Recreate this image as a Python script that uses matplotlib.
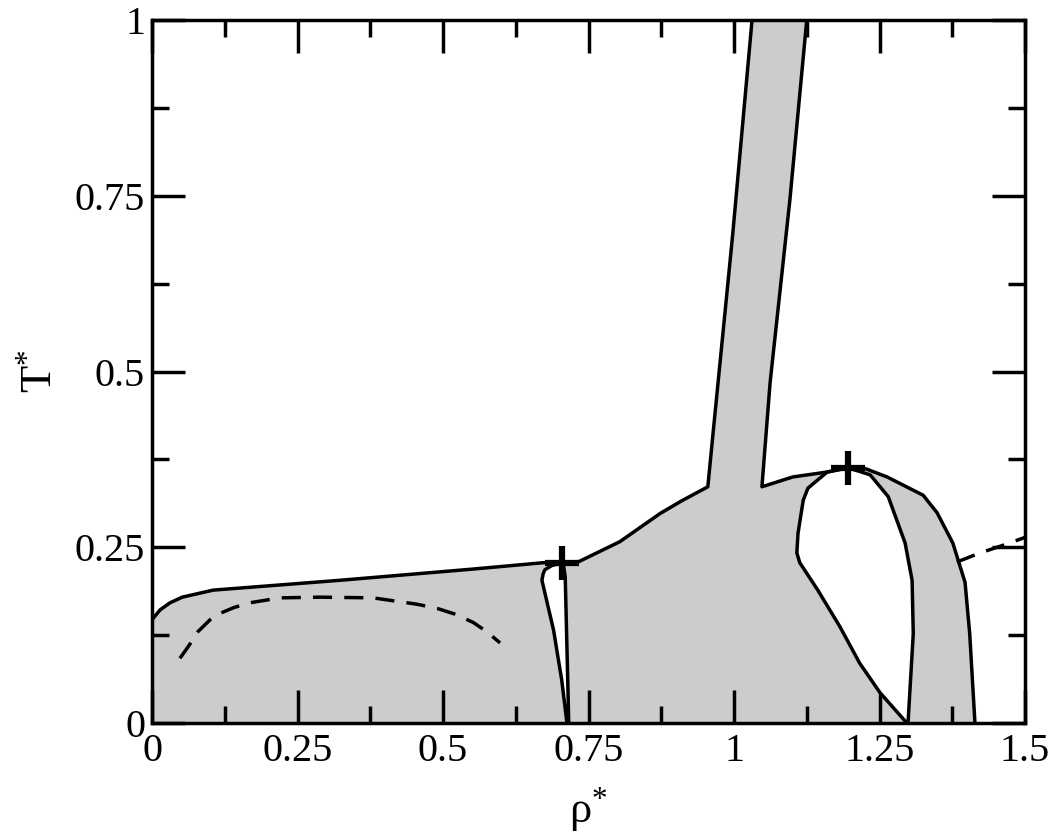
import matplotlib
matplotlib.use("Agg")
import matplotlib.pyplot as plt
from matplotlib.ticker import MultipleLocator

# ---- data ----
# upper boundary of the grey region, left part (up to the bottom-left of the strip)
left_rho = [0.0, 0.0, 0.014, 0.031, 0.052, 0.105, 0.323, 0.552, 0.672, 0.704, 0.732, 0.804, 0.873, 0.910, 0.955]
left_T   = [0.0, 0.147, 0.161, 0.171, 0.179, 0.189, 0.203, 0.219, 0.228, 0.229, 0.229, 0.258, 0.298, 0.316, 0.336]

# vertical strip going to the top
strip_left_rho  = [0.955, 0.964, 0.998, 1.031]
strip_left_T    = [0.336, 0.412, 0.697, 1.000]
strip_right_rho = [1.125, 1.096, 1.062, 1.048]
strip_right_T   = [1.000, 0.744, 0.484, 0.336]

# right part of the boundary (from strip to the axis)
right_rho = [1.048, 1.101, 1.160, 1.196, 1.222, 1.263, 1.325, 1.349, 1.376, 1.397, 1.405, 1.414]
right_T   = [0.336, 0.350, 0.357, 0.363, 0.363, 0.350, 0.324, 0.299, 0.256, 0.200, 0.127, 0.000]

# white loop near rho = 0.7
loop1_rho = [0.713, 0.704, 0.690, 0.670, 0.672, 0.675, 0.687, 0.701, 0.707, 0.710, 0.715, 0.716]
loop1_T   = [0.000, 0.061, 0.132, 0.203, 0.212, 0.218, 0.224, 0.227, 0.224, 0.208, 0.037, 0.000]

# white loop near rho = 1.2
loop2_rho = [1.297, 1.251, 1.216, 1.182, 1.144, 1.113, 1.108, 1.110, 1.119, 1.127, 1.160, 1.196,
             1.234, 1.265, 1.294, 1.306, 1.308, 1.299]
loop2_T   = [0.000, 0.043, 0.085, 0.137, 0.189, 0.228, 0.242, 0.270, 0.317, 0.334, 0.357, 0.363,
             0.353, 0.322, 0.256, 0.203, 0.127, 0.000]

# dashed curves
dash1_rho = [0.048, 0.065, 0.079, 0.100, 0.117, 0.140, 0.168, 0.220, 0.289, 0.380, 0.455, 0.490,
             0.520, 0.552, 0.575, 0.598]
dash1_T   = [0.092, 0.112, 0.130, 0.147, 0.156, 0.164, 0.171, 0.178, 0.179, 0.178, 0.169, 0.163,
             0.155, 0.143, 0.130, 0.114]
dash2_rho = [1.383, 1.423, 1.463, 1.500]
dash2_T   = [0.229, 0.242, 0.253, 0.264]

# critical points
crit_rho = [0.704, 1.196]
crit_T   = [0.227, 0.363]

xticks = [0, 0.25, 0.5, 0.75, 1, 1.25, 1.5]
xticklabels = ["0", "0.25", "0.5", "0.75", "1", "1.25", "1.5"]
yticks = [0, 0.25, 0.5, 0.75, 1]
yticklabels = ["0", "0.25", "0.5", "0.75", "1"]

# ---- style ----
plt.rcParams['font.family'] = ['Liberation Serif', 'DejaVu Serif']
plt.rcParams['mathtext.fontset'] = 'custom'
plt.rcParams['mathtext.rm'] = 'Liberation Serif'
plt.rcParams['mathtext.it'] = 'Liberation Serif'
plt.rcParams['mathtext.default'] = 'rm'

LW = 2.5
GREY = '#cccccc'

fig = plt.figure(figsize=(10.57, 8.34), dpi=100)
ax = fig.add_axes([152/1057, 1 - 723/834, (1025-152)/1057, (723-20)/834])

# grey region
poly_x = left_rho + strip_left_rho + strip_right_rho + right_rho
poly_y = left_T + strip_left_T + strip_right_T + right_T
ax.fill(poly_x, poly_y, color=GREY, lw=0, zorder=1)

# white holes
ax.fill(loop1_rho, loop1_T, color='white', lw=0, zorder=2)
ax.fill(loop2_rho, loop2_T, color='white', lw=0, zorder=2)

line_kw = dict(color='black', lw=LW, solid_joinstyle='round', solid_capstyle='round', zorder=3)
ax.plot(left_rho + strip_left_rho, left_T + strip_left_T, **line_kw)
ax.plot(strip_right_rho + right_rho, strip_right_T + right_T, **line_kw)
ax.plot(loop1_rho, loop1_T, **line_kw)
ax.plot(loop2_rho, loop2_T, **line_kw)

dash_kw = dict(color='black', lw=LW, dashes=(5.5, 3.5), dash_capstyle='butt', zorder=3)
ax.plot(dash1_rho, dash1_T, **dash_kw)
ax.plot(dash2_rho, dash2_T, **dash_kw)

ax.plot(crit_rho, crit_T, ls='none', marker='+', ms=24, mew=4.5, color='black', zorder=4)

ax.set_xlim(0, 1.5)
ax.set_ylim(0, 1)
ax.set_xticks(xticks)
ax.set_xticklabels(xticklabels)
ax.set_yticks(yticks)
ax.set_yticklabels(yticklabels)
ax.xaxis.set_minor_locator(MultipleLocator(0.125))
ax.yaxis.set_minor_locator(MultipleLocator(0.125))
ax.tick_params(which='both', direction='in', top=True, right=True, width=LW, labelsize=29)
ax.tick_params(which='major', length=24)
ax.tick_params(which='minor', length=12)
ax.tick_params(axis='x', which='major', pad=7)
ax.tick_params(axis='y', which='major', pad=5)
for s in ax.spines.values():
    s.set_linewidth(LW)
    s.set_zorder(5)

ax.set_xlabel('ρ$^{*}$', fontsize=32, labelpad=11)
ax.set_ylabel('T$^{*}$', fontsize=32, labelpad=10)

fig.savefig('out.png', dpi=100)
